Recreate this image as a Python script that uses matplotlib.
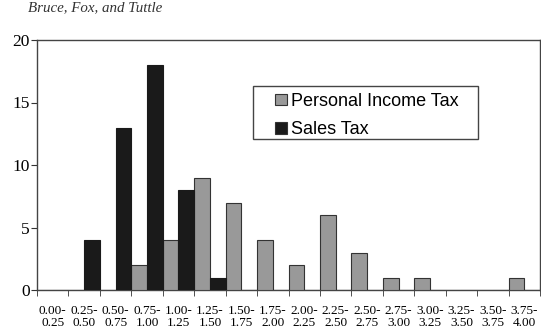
import matplotlib
matplotlib.use("Agg")
import matplotlib.pyplot as plt
from matplotlib.patches import Rectangle
import numpy as np

categories = ["0.00-\n0.25", "0.25-\n0.50", "0.50-\n0.75", "0.75-\n1.00", "1.00-\n1.25",
              "1.25-\n1.50", "1.50-\n1.75", "1.75-\n2.00", "2.00-\n2.25", "2.25-\n2.50",
              "2.50-\n2.75", "2.75-\n3.00", "3.00-\n3.25", "3.25-\n3.50", "3.50-\n3.75",
              "3.75-\n4.00"]
personal_income_tax = [0, 0, 0, 2, 4, 9, 7, 4, 2, 6, 3, 1, 1, 0, 0, 1]
sales_tax = [0, 4, 13, 18, 8, 1, 0, 0, 0, 0, 0, 0, 0, 0, 0, 0]
y_ticks = [0, 5, 10, 15, 20]

W, H = 541, 330
fig = plt.figure(figsize=(W/100, H/100), dpi=100)
ax = fig.add_axes([37/W, 1 - 290/H, 503/W, 250/H])

x = np.arange(len(categories))
w = 0.5
ax.bar(x - w/2, personal_income_tax, width=w, color="#999999", edgecolor="#333333",
       linewidth=0.8, label="Personal Income Tax", zorder=3)
ax.bar(x + w/2, sales_tax, width=w, color="#1a1a1a", edgecolor="#1a1a1a",
       linewidth=0.8, label="Sales Tax", zorder=3)

ax.set_xlim(-0.5, len(categories) - 0.5)
ax.set_ylim(0, 20)
ax.set_yticks(y_ticks)
ax.set_yticklabels([str(v) for v in y_ticks], family="Liberation Serif", fontsize=12.5)
ax.set_xticks(x)
ax.set_xticklabels(categories, family="Liberation Serif", fontsize=9.5, linespacing=1.0)
ax.tick_params(axis="x", length=0, pad=11)
ax.set_xticks(np.arange(len(categories) + 1) - 0.5, minor=True)
ax.tick_params(axis="x", which="minor", length=4, color="#333333", direction="out")
ax.tick_params(axis="y", length=4, color="#333333", direction="out", pad=1)
for s in ax.spines.values():
    s.set_color("#444444")
    s.set_linewidth(1.0)

# legend (frame drawn separately to match the wide horizontal padding)
leg = ax.legend(loc="upper left", bbox_to_anchor=((275-37)/503, (290-93)/250),
                prop={"family": "Liberation Sans", "size": 13}, frameon=False,
                borderpad=0, labelspacing=0.62,
                handlelength=0.65, handleheight=0.6, handletextpad=0.25, borderaxespad=0)
for h in leg.legend_handles:
    h.set_edgecolor("#333333")
    h.set_linewidth(0.8)

frame = Rectangle((253/W, 1 - 139/H), (478-253)/W, (139-86)/H, transform=fig.transFigure,
                  facecolor="white", edgecolor="#444444", linewidth=1.0, zorder=4)
ax.add_artist(frame)
leg.set_zorder(5)

fig.text(28/W, 1 - 8/H, "Bruce, Fox, and Tuttle", family="Liberation Serif",
         style="italic", fontsize=10.8, va="center", ha="left", color="#333333")

fig.savefig("out.png", dpi=100)
